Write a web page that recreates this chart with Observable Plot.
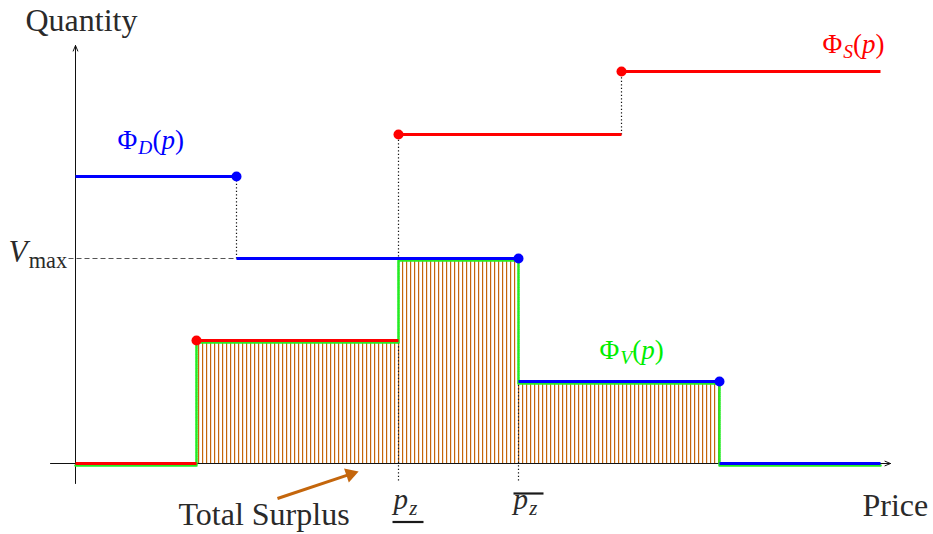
<!DOCTYPE html>
<html><head><meta charset="utf-8">
<script src="https://cdn.jsdelivr.net/npm/d3@7"></script>
<script src="https://cdn.jsdelivr.net/npm/@observablehq/plot@0.6"></script>
<style>body{margin:0;background:#fff} #chart svg{display:block}</style>
</head><body><div id="chart"></div>
<script>
// Price axis end (where the supply/demand curves stop)
const priceEnd = 80.5;
// Supply curve Φ_S(p): step levels starting at price p
const supplySteps = [
  {p: 0, q: 0}, {p: 12.1, q: 12.3}, {p: 32.3, q: 32.9}, {p: 54.6, q: 39.2}
];
// Demand curve Φ_D(p): step levels starting at price p
const demandSteps = [
  {p: 0, q: 28.7}, {p: 16.1, q: 20.5}, {p: 44.3, q: 8.2}, {p: 64.4, q: 0}
];
// Traded volume Φ_V(p) = min(Φ_S, Φ_D)
const volumeSteps = [
  {p: 0, q: 0}, {p: 12.1, q: 12.3}, {p: 32.3, q: 20.5}, {p: 44.3, q: 8.2}, {p: 64.4, q: 0}, {p: 80.5, q: 0}
];
// Surplus region (under Φ_V)
const surplusSteps = [
  {p: 12.1, q: 12.3}, {p: 32.3, q: 20.5}, {p: 44.3, q: 8.2}, {p: 64.4, q: 8.2}
];
const vMax = 20.5;
const pzLow = 32.3, pzHigh = 44.3;
// Dotted guide lines
const guides = [
  {p: 12.1, q1: 0, q2: 12.3},
  {p: 16.1, q1: 20.5, q2: 28.7},
  {p: 32.3, q1: -1.7, q2: 32.9},
  {p: 44.3, q1: -1.7, q2: 20.5},
  {p: 54.6, q1: 32.9, q2: 39.2},
  {p: 64.4, q1: 0, q2: 8.2}
];
// Labels
const labels = [
  {x: -5.0, y: 43.3, text: "Quantity", fill: "#2a2a2a", size: 32},
  {x: 78.7, y: -5.2, text: "Price", fill: "#2a2a2a", size: 32},
  {x: 10.3, y: -6.1, text: "Total Surplus", fill: "#2a2a2a", size: 32},
  {x: 31.8, y: -4.5, text: "*p*_{*z*}", fill: "#2a2a2a", size: 29},
  {x: 43.8, y: -4.5, text: "*p*_{*z*}", fill: "#2a2a2a", size: 29},
  {x: -6.7, y: 20.2, text: "*V*_{max}", fill: "#2a2a2a", size: 31},
  {x: 4.2, y: 31.5, text: "Φ_{*D*}(*p*)", fill: "#0000ff", size: 27},
  {x: 74.7, y: 41.1, text: "Φ_{*S*}(*p*)", fill: "#ff0000", size: 27},
  {x: 52.4, y: 10.5, text: "Φ_{*V*}(*p*)", fill: "#00ee00", size: 27}
];
// "Total Surplus" pointer
const pointer = {x1: 20.2, y1: -3.5, x2: 27.5, y2: -1.07, headAngle: 71.4};

function segments(steps) {
  return steps.map((d, i) => ({x1: d.p, x2: i + 1 < steps.length ? steps[i + 1].p : priceEnd, q: d.q}));
}
const supplySeg = segments(supplySteps);
const demandSeg = segments(demandSteps);
const supplyDots = supplySteps.slice(1);
const demandDots = demandSeg.slice(0, -1).map(d => ({p: d.x2, q: d.q}));

const hatchColor = "#c4660c";

const plot = Plot.plot({
  width: 933, height: 534,
  marginTop: 0, marginRight: 0, marginBottom: 0, marginLeft: 0,
  x: {domain: [-7.5, 85.8], range: [0, 933], axis: null},
  y: {domain: [-7.1, 46.3], range: [534, 0], axis: null},
  color: {type: "identity"},
  style: {background: "white", fontFamily: "'Liberation Serif', serif"},
  marks: [
    Plot.areaY(surplusSteps, {x: "p", y1: 0, y2: "q", curve: "step-after", fill: "url(#hatch)"}),
    // axes
    Plot.arrow([{x1: -2.5, y1: 0, x2: 81.5, y2: 0}], {x1: "x1", y1: "y1", x2: "x2", y2: "y2", stroke: "#111", strokeWidth: 1, headLength: 9, headAngle: 45}),
    Plot.arrow([{x1: 0, y1: -2, x2: 0, y2: 41.8}], {x1: "x1", y1: "y1", x2: "x2", y2: "y2", stroke: "#111", strokeWidth: 1, headLength: 9, headAngle: 45}),
    // V max dashed
    Plot.link([{x1: -0.7, x2: 16.1, y: vMax}], {x1: "x1", x2: "x2", y1: "y", y2: "y", stroke: "#555", strokeWidth: 1.2, strokeDasharray: "5,3"}),
    // dotted guides
    Plot.link(guides, {x1: "p", x2: "p", y1: "q1", y2: "q2", stroke: "#111", strokeWidth: 1.2, strokeDasharray: "1.2,2.3"}),
    // volume curve (green)
    Plot.line(volumeSteps, {x: "p", y: "q", curve: "step-after", stroke: "#22ee22", strokeWidth: 2.6, strokeDasharray: "1,1", dy: 2}),
    // supply / demand
    Plot.link(supplySeg, {x1: "x1", x2: "x2", y1: "q", y2: "q", stroke: "#ff0000", strokeWidth: 3}),
    Plot.link(demandSeg, {x1: "x1", x2: "x2", y1: "q", y2: "q", stroke: "#0000ff", strokeWidth: 3}),
    Plot.dot(supplyDots, {x: "p", y: "q", r: 5, fill: "#ff0000"}),
    Plot.dot(demandDots, {x: "p", y: "q", r: 5, fill: "#0000ff"}),
    // under/over lines for p_z
    Plot.link([{x1: pzLow - 0.6, x2: pzLow + 2.5, y: -5.85}, {x1: pzHigh - 0.5, x2: pzHigh + 2.5, y: -3.0}], {x1: "x1", x2: "x2", y1: "y", y2: "y", stroke: "#1a1a1a", strokeWidth: 2.2}),
    // Total surplus arrow
    Plot.link([pointer], {x1: "x1", y1: "y1", x2: "x2", y2: "y2", stroke: hatchColor, strokeWidth: 3}),
    Plot.dot([pointer], {x: "x2", y: "y2", symbol: "triangle", r: 5.5, fill: hatchColor, rotate: "headAngle"}),
    Plot.text(labels, {x: "x", y: "y", text: "text", fill: "fill", fontSize: "size", textAnchor: "start", lineAnchor: "bottom"})
  ]
});

d3.select(plot).insert("defs", ":first-child").html(
  `<pattern id="hatch" patternUnits="userSpaceOnUse" x="198" y="0" width="4" height="20">
     <rect x="0" y="0" width="1.2" height="20" fill="${hatchColor}"/>
   </pattern>`);

document.getElementById("chart").appendChild(plot);

// Turn simple markup (_{sub}, *italic*) into tspans
d3.select(plot).selectAll("text").each(function () {
  const el = this;
  const s = el.textContent;
  if (!/[_*]/.test(s)) return;
  const fs = parseFloat(el.getAttribute("font-size") || getComputedStyle(el).fontSize);
  const parts = s.match(/_\{[^}]*\}|\*[^*]*\*|[^_*]+/g);
  el.textContent = "";
  let shift = 0;
  for (const p of parts) {
    const t = d3.select(el).append("tspan");
    if (p.startsWith("_{")) {
      let inner = p.slice(2, -1);
      const it = /^\*.*\*$/.test(inner);
      if (it) inner = inner.slice(1, -1);
      const sub = fs * 0.22;
      t.text(inner).attr("font-size", fs * 0.72).attr("dy", sub - shift).attr("dx", fs * 0.04);
      if (it) t.attr("font-style", "italic");
      shift = sub;
    } else {
      let txt = p;
      const it = /^\*.*\*$/.test(txt);
      if (it) txt = txt.slice(1, -1);
      t.text(txt);
      if (shift) t.attr("dy", -shift);
      shift = 0;
      if (it) t.attr("font-style", "italic");
    }
  }
});
</script>
</body></html>
